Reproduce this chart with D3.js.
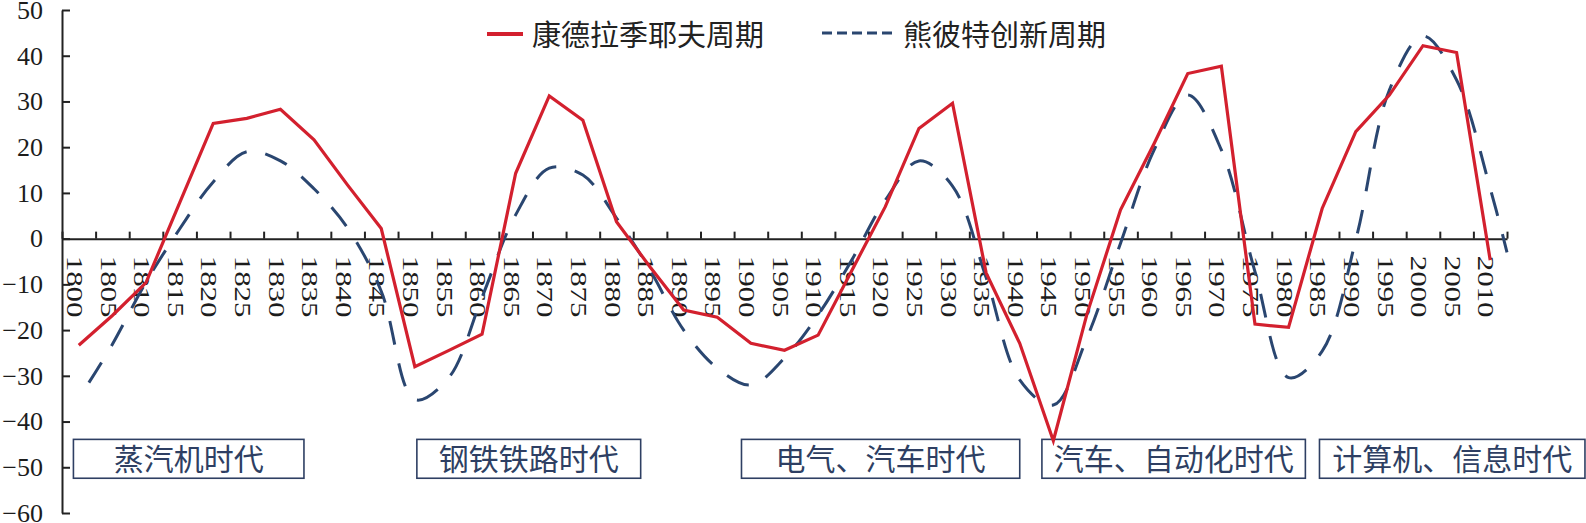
<!DOCTYPE html>
<head>
    <meta charset="utf-8">
    <title>长波周期</title>
    <script src="https://cdn.jsdelivr.net/npm/d3@7"></script>
    <style>
      body { margin: 0; background: #fff; }
    </style>
</head>
<body>
<div id="container"></div>

<script>

// Données
const years = [1800, 1805, 1810, 1815, 1820, 1825, 1830, 1835, 1840, 1845,
               1850, 1855, 1860, 1865, 1870, 1875, 1880, 1885, 1890, 1895,
               1900, 1905, 1910, 1915, 1920, 1925, 1930, 1935, 1940, 1945,
               1950, 1955, 1960, 1965, 1970, 1975, 1980, 1985, 1990, 1995,
               2000, 2005, 2010];

// 康德拉季耶夫周期 (ligne rouge)
const kondratiev = [-23.3, -16.8, -9.6, 7.8, 25.2, 26.3, 28.3, 21.6, 11.7, 2.2,
                    -28.0, -24.5, -20.9, 14.3, 31.2, 25.9, 3.7, -6.2, -15.6, -17.2,
                    -22.9, -24.4, -21.1, -7.0, 7.0, 24.1, 29.6, -7.5, -22.9, -44.2,
                    -16.5, 6.3, 20.8, 36.1, 37.7, -18.7, -19.4, 6.6, 23.4, 31.4,
                    42.2, 40.7, -4.7];

// 熊彼特创新周期 (ligne bleue lissée)
const schumpeterYears = [1801.5, 1805, 1810, 1815, 1820, 1825, 1830, 1835, 1840, 1845,
                         1850, 1855, 1860, 1865, 1870, 1875, 1880, 1885, 1890, 1895,
                         1900, 1905, 1910, 1915, 1920, 1925, 1930, 1935, 1940, 1945,
                         1950, 1955, 1960, 1965, 1970, 1975, 1980, 1985, 1990, 1995,
                         2000, 2005, 2010, 2012.5];
const schumpeter = [-31.5, -23.1, -9.5, 2.1, 12.4, 19.0, 17.0, 10.9, 2.3, -11.5,
                    -35.2, -30.5, -12.8, 5.2, 15.4, 13.9, 4.5, -6.9, -20.0, -28.3,
                    -32.0, -26.1, -16.7, -4.7, 8.4, 17.0, 11.5, -8.5, -30.9, -36.4,
                    -21.7, -1.0, 19.4, 31.4, 19.4, -7.2, -30.4, -24.6, -0.3, 32.5,
                    44.3, 34.7, 11.0, -3.0];

const yTicks = [-60, -50, -40, -30, -20, -10, 0, 10, 20, 30, 40, 50];

const seriesNames = ["康德拉季耶夫周期", "熊彼特创新周期"];

// Ères (étiquettes encadrées) et leur étendue en années
const eras = ["蒸汽机时代", "钢铁铁路时代", "电气、汽车时代", "汽车、自动化时代", "计算机、信息时代"];
const eraSpans = [[1799.2, 1833.5], [1850.3, 1883.6], [1898.6, 1940.0], [1943.3, 1982.5], [1984.6, 2024.1]];

// Dimensions
const width = 1586;
const height = 523;
const red = "#d3202e";
const blue = "#2a4670";
const navy = "#2e3f63";

const svg = d3.select("#container")
  .append("svg")
  .attr("width", width)
  .attr("height", height)
  .style("font-family", "'Liberation Serif', serif");

// Échelles
const x = d3.scaleLinear()
  .domain([1797.5, 2012.5])
  .range([62, 1507]);

const y = d3.scaleLinear()
  .domain([-60, 50])
  .range([513, 10]);

// Encadrés des ères (sous les lignes)
const eraG = svg.append("g");
eras.forEach((name, i) => {
  const [a, b] = eraSpans[i];
  eraG.append("rect")
    .attr("x", x(a))
    .attr("y", y(-43.9))
    .attr("width", x(b) - x(a))
    .attr("height", y(-52.4) - y(-43.9))
    .attr("fill", "#fff")
    .attr("stroke", navy)
    .attr("stroke-width", 1.6);
  eraG.append("text")
    .attr("x", (x(a) + x(b)) / 2)
    .attr("y", (y(-43.9) + y(-52.4)) / 2 + 11)
    .attr("text-anchor", "middle")
    .style("font-family", "'Noto Sans CJK SC', sans-serif")
    .style("font-size", "30px")
    .attr("fill", navy)
    .text(name);
});

// Axe Y
const yAxis = svg.append("g")
  .attr("transform", `translate(${x(1797.5)},0)`)
  .call(d3.axisLeft(y).tickValues(yTicks).tickSizeInner(-8).tickSizeOuter(0).tickPadding(19));
yAxis.select(".domain").attr("stroke", "#222").attr("stroke-width", 2);
yAxis.selectAll(".tick line").attr("stroke", "#222").attr("stroke-width", 2);
yAxis.selectAll("text")
  .style("font-family", "'Liberation Serif', serif")
  .style("font-size", "26px")
  .attr("fill", "#1c1c1c");

// Axe X (graduations entre les catégories, vers le haut)
const bounds = years.map(d => d - 2.5).concat([years[years.length - 1] + 2.5]);
const xAxis = svg.append("g")
  .attr("transform", `translate(0,${y(0)})`)
  .call(d3.axisTop(x).tickValues(bounds).tickSizeInner(7).tickSizeOuter(0).tickFormat(""));
xAxis.select(".domain").attr("stroke", "#222").attr("stroke-width", 2);
xAxis.selectAll(".tick line").attr("stroke", "#222").attr("stroke-width", 2);

// Étiquettes des années, tournées de 90°
svg.append("g")
  .selectAll("text")
  .data(years)
  .join("text")
  .attr("transform", d => `translate(${x(d) - 4.5},${y(0) + 17}) rotate(90) scale(1,0.72)`)
  .attr("dy", "0.33em")
  .style("font-size", "31px")
  .attr("fill", "#1c1c1c")
  .text(d => d);

// Lignes
const blueLine = d3.line()
  .x((d, i) => x(schumpeterYears[i]))
  .y(d => y(d))
  .curve(d3.curveCatmullRom);

svg.append("path")
  .datum(schumpeter)
  .attr("d", blueLine)
  .attr("fill", "none")
  .attr("stroke", blue)
  .attr("stroke-width", 3)
  .attr("stroke-dasharray", "24,19");

const redLine = d3.line()
  .x((d, i) => x(years[i]))
  .y(d => y(d));

svg.append("path")
  .datum(kondratiev)
  .attr("d", redLine)
  .attr("fill", "none")
  .attr("stroke", red)
  .attr("stroke-width", 3.2)
  .attr("stroke-linejoin", "miter");

// Légende
const legend = svg.append("g").style("font-family", "'Noto Sans CJK SC', sans-serif");
legend.append("line")
  .attr("x1", 487).attr("x2", 523).attr("y1", 34).attr("y2", 34)
  .attr("stroke", red).attr("stroke-width", 4);
legend.append("text")
  .attr("x", 532).attr("y", 46)
  .style("font-size", "29px")
  .attr("fill", "#222")
  .text(seriesNames[0]);
legend.append("line")
  .attr("x1", 822).attr("x2", 892).attr("y1", 33).attr("y2", 33)
  .attr("stroke", blue).attr("stroke-width", 3)
  .attr("stroke-dasharray", "10,5");
legend.append("text")
  .attr("x", 903).attr("y", 46)
  .style("font-size", "29px")
  .attr("fill", "#222")
  .text(seriesNames[1]);

</script>

</body>
